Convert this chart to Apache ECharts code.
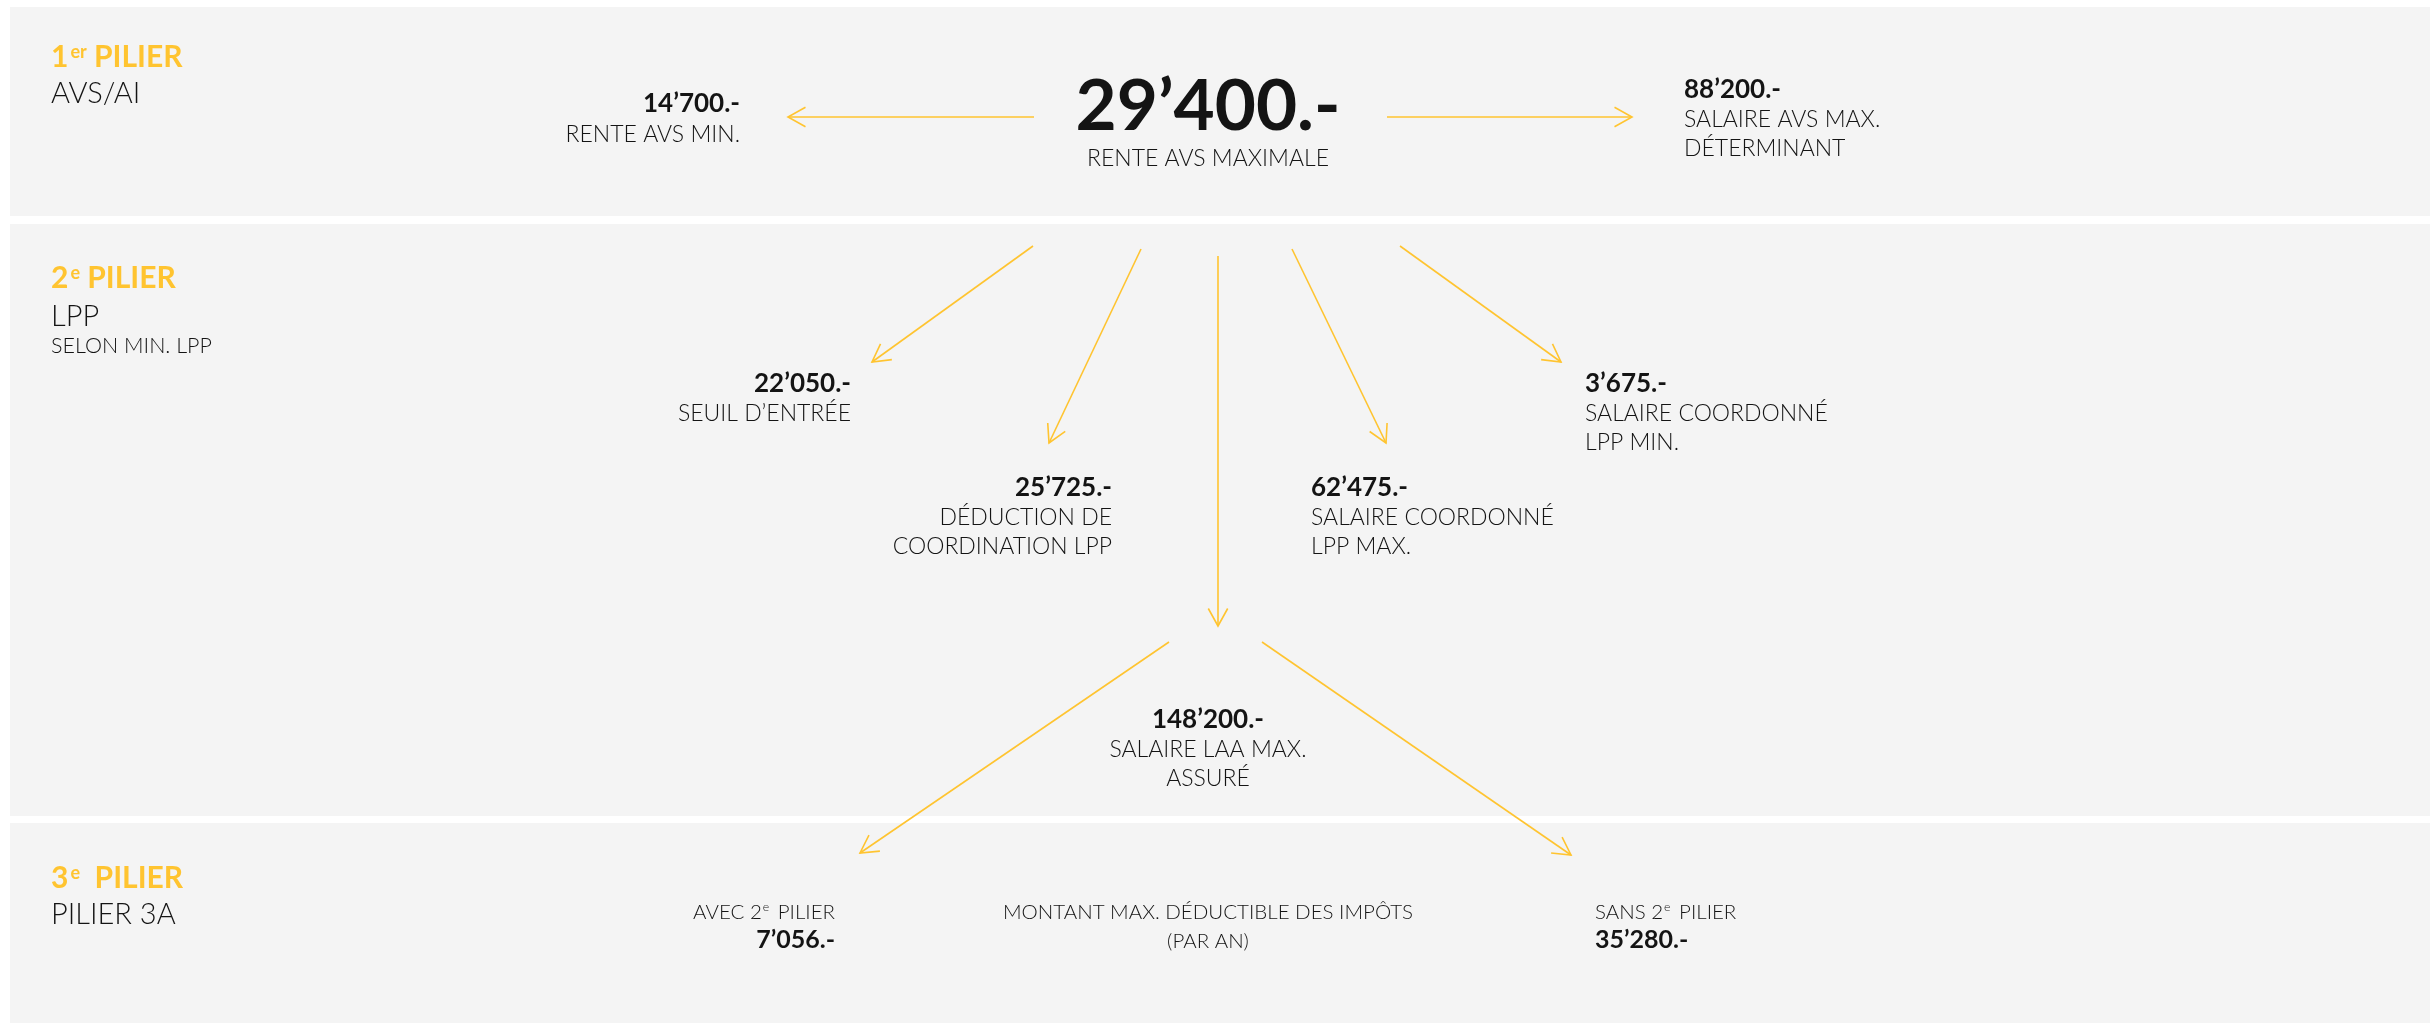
<!DOCTYPE html>
<html>
<head>
<meta charset="utf-8">
<title>Les 3 piliers</title>
<script src="https://cdn.jsdelivr.net/npm/echarts@6/dist/echarts.min.js"></script>
<style>
    html, body { margin: 0; padding: 0; background: #ffffff; }
    .chars-pillars { width: 2430px; height: 1025px; }
</style>
</head>
<body>
<div class="chars-pillars"></div>
<script>
// 1 - données
var pillarNumbers = ['1', '2', '3'];
var pillarSuffixes = ['er', 'e', 'e'];
var pillarNames = ['AVS/AI', 'LPP', 'PILIER 3A'];
var pillarNotes = ['', 'SELON MIN. LPP', ''];

var avsAmounts = ['14’700.-', '29’400.-', '88’200.-'];
var avsLabels = ['RENTE AVS MIN.', 'RENTE AVS MAXIMALE', 'SALAIRE AVS MAX.\nDÉTERMINANT'];

var lppAmounts = ['22’050.-', '25’725.-', '62’475.-', '3’675.-', '148’200.-'];
var lppLabels = ['SEUIL D’ENTRÉE', 'DÉDUCTION DE\nCOORDINATION LPP', 'SALAIRE COORDONNÉ\nLPP MAX.',
    'SALAIRE COORDONNÉ\nLPP MIN.', 'SALAIRE LAA MAX.\nASSURÉ'];

var p3aAmounts = ['7’056.-', '35’280.-'];
var p3aLabels = ['AVEC 2{s|e} PILIER', 'SANS 2{s|e} PILIER'];
var p3aCaption = 'MONTANT MAX. DÉDUCTIBLE DES IMPÔTS\n(PAR AN)';

// 2 - mise en page (pixels de la grille 2430 x 1025)
var YELLOW = '#FFC430';
var INK = '#141414';
var FONT = 'Lato, "Open Sans", sans-serif';

var bands = [[10, 7, 2430, 216], [10, 224, 2430, 816], [10, 823, 2430, 1023]];
var titleSpots = [[51, 68, 104, 0], [51, 289, 327, 353], [51, 889, 925, 0]];

var arrows = [
    [1034, 117, 788, 117], [1387, 117, 1632, 117],
    [1033, 246, 872, 362], [1141, 249, 1049, 443], [1218, 256, 1218, 626],
    [1292, 249, 1386, 443], [1400, 246, 1561, 362],
    [1169, 642, 860, 853], [1262, 642, 1571, 855]
];

var styles = {
    big: { size: 71, weight: 'bold' },
    amt: { size: 26, weight: 'bold' },
    lbl: { size: 23, weight: 300 },
    amt3: { size: 25, weight: 'bold' },
    lbl3: { size: 20.5, weight: 300 }
};

// bloc : x, ligne de base, alignement, lignes
var textBlocks = [];
function addBlock(x, y, align, lines, gap) {
    textBlocks.push({ x: x, y: y, align: align, lines: lines, gap: gap || 29 });
}
function split(text, kind) {
    return text.split('\n').map(function (t) { return { text: t, kind: kind }; });
}
addBlock(740, 112, 'right', [{ text: avsAmounts[0], kind: 'amt' }].concat(split(avsLabels[0], 'lbl')), 30);
addBlock(1208, 131, 'center', [{ text: avsAmounts[1], kind: 'big' }].concat(split(avsLabels[1], 'lbl')), 35);
addBlock(1684, 98, 'left', [{ text: avsAmounts[2], kind: 'amt' }].concat(split(avsLabels[2], 'lbl')));
addBlock(851, 392, 'right', [{ text: lppAmounts[0], kind: 'amt' }].concat(split(lppLabels[0], 'lbl')));
addBlock(1112, 496, 'right', [{ text: lppAmounts[1], kind: 'amt' }].concat(split(lppLabels[1], 'lbl')));
addBlock(1311, 496, 'left', [{ text: lppAmounts[2], kind: 'amt' }].concat(split(lppLabels[2], 'lbl')));
addBlock(1585, 392, 'left', [{ text: lppAmounts[3], kind: 'amt' }].concat(split(lppLabels[3], 'lbl')));
addBlock(1208, 728, 'center', [{ text: lppAmounts[4], kind: 'amt' }].concat(split(lppLabels[4], 'lbl')));
addBlock(835, 919, 'right', split(p3aLabels[0], 'lbl3').concat([{ text: p3aAmounts[0], kind: 'amt3' }]));
addBlock(1208, 919, 'center', split(p3aCaption, 'lbl3'));
addBlock(1595, 919, 'left', split(p3aLabels[1], 'lbl3').concat([{ text: p3aAmounts[1], kind: 'amt3' }]));

// 3 - rendu
function renderBand(params, api) {
    var b = bands[params.dataIndex];
    var p0 = api.coord([b[0], b[1]]);
    var p1 = api.coord([b[2], b[3]]);
    return {
        type: 'rect',
        shape: { x: p0[0], y: p0[1], width: p1[0] - p0[0], height: p1[1] - p0[1] },
        style: { fill: '#f4f4f4' }
    };
}

function renderArrow(params, api) {
    var a = arrows[params.dataIndex];
    var p0 = api.coord([a[0], a[1]]);
    var p1 = api.coord([a[2], a[3]]);
    var ang = Math.atan2(p1[1] - p0[1], p1[0] - p0[0]) + Math.PI;
    var len = 20, spread = 29 * Math.PI / 180;
    var w1 = [p1[0] + len * Math.cos(ang + spread), p1[1] + len * Math.sin(ang + spread)];
    var w2 = [p1[0] + len * Math.cos(ang - spread), p1[1] + len * Math.sin(ang - spread)];
    var st = { stroke: YELLOW, lineWidth: 1.6, fill: null };
    return {
        type: 'group',
        children: [
            { type: 'line', shape: { x1: p0[0], y1: p0[1], x2: p1[0], y2: p1[1] }, style: st },
            { type: 'polyline', shape: { points: [w1, p1, w2] }, style: st }
        ]
    };
}

function renderText(params, api) {
    var b = textBlocks[params.dataIndex];
    var p = api.coord([b.x, b.y]);
    var children = b.lines.map(function (ln, i) {
        var s = styles[ln.kind];
        return {
            type: 'text',
            x: p[0],
            y: p[1] + i * b.gap - s.size * 0.34,
            style: {
                text: ln.text,
                fill: INK,
                fontFamily: FONT,
                fontSize: s.size,
                fontWeight: s.weight,
                align: b.align,
                verticalAlign: 'middle',
                rich: {
                    s: { fontSize: s.size * 0.6, fontFamily: FONT, fontWeight: s.weight, fill: INK, verticalAlign: 'top', padding: [0, 3, 0, 1] }
                }
            }
        };
    });
    return { type: 'group', children: children };
}

function renderTitle(params, api) {
    var i = params.dataIndex;
    var t = titleSpots[i];
    var p = api.coord([t[0], t[1]]);
    var gapTxt = i === 2 ? '  ' : ' ';
    var children = [{
        type: 'text',
        x: p[0],
        y: p[1] - 30 * 0.34,
        style: {
            text: '{n|' + pillarNumbers[i] + '}{s|' + pillarSuffixes[i] + '}{n|' + gapTxt + 'PILIER}',
            align: 'left',
            verticalAlign: 'middle',
            rich: {
                n: { fontSize: 30, fontWeight: 'bold', fontFamily: FONT, fill: YELLOW },
                s: { fontSize: 18, fontWeight: 'bold', fontFamily: FONT, fill: YELLOW, verticalAlign: 'top', padding: [0, 0, 0, 2] }
            }
        }
    }, {
        type: 'text',
        x: p[0],
        y: api.coord([0, t[2]])[1] - 29 * 0.34,
        style: { text: pillarNames[i], fontSize: 29, fontWeight: 300, fontFamily: FONT, fill: INK, align: 'left', verticalAlign: 'middle' }
    }];
    if (pillarNotes[i]) {
        children.push({
            type: 'text',
            x: p[0],
            y: api.coord([0, t[3]])[1] - 21.5 * 0.34,
            style: { text: pillarNotes[i], fontSize: 21.5, fontWeight: 300, fontFamily: FONT, fill: INK, align: 'left', verticalAlign: 'middle' }
        });
    }
    return { type: 'group', children: children };
}

function idx(arr) { return arr.map(function (d, i) { return [i]; }); }

var chart = echarts.init(document.querySelector('.chars-pillars'));
var option = {
    animation: false,
    backgroundColor: '#ffffff',
    tooltip: { show: false },
    grid: { left: 0, right: 0, top: 0, bottom: 0 },
    xAxis: { type: 'value', min: 0, max: 2430, show: false },
    yAxis: { type: 'value', min: 0, max: 1025, inverse: true, show: false },
    series: [
        { type: 'custom', silent: true, z: 1, renderItem: renderBand, data: idx(bands) },
        { type: 'custom', silent: true, z: 2, renderItem: renderArrow, data: idx(arrows) },
        { type: 'custom', silent: true, z: 3, renderItem: renderTitle, data: idx(pillarNumbers) },
        { type: 'custom', silent: true, z: 3, renderItem: renderText, data: idx(textBlocks) }
    ]
};
chart.setOption(option);
</script>
</body>
</html>
